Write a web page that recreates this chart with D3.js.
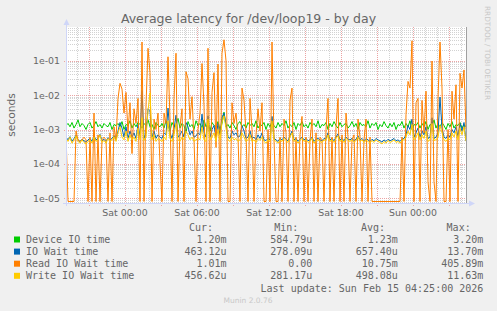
<!DOCTYPE html>
<html>
<head>
<meta charset="utf-8">
<script src="https://cdn.jsdelivr.net/npm/d3@7"></script>
<style>
  body { margin: 0; background: #f0f0f0; }
  svg { display: block; }
</style>
</head>
<body>
<div id="chart"></div>
<script>
// time window of the day graph (one sample every 10 minutes)
const startTime = new Date(2026, 1, 13, 19, 5);
const endTime = new Date(2026, 1, 15, 4, 25);
const stepMinutes = 10;

// values in milliseconds
const deviceIO = [
  1.3,1.5,1.2,1.6,1.1,1.4,1.9,1.2,1.5,1.3,
  1.0,1.4,1.6,1.1,1.3,1.7,1.2,1.4,1.1,1.5,
  1.3,1.2,1.6,1.0,1.4,1.3,1.5,1.2,1.7,1.0,
  1.4,1.3,1.8,1.1,1.5,1.2,1.6,1.4,1.1,1.5,
  1.3,1.9,1.2,1.4,1.0,1.6,1.3,1.2,1.5,1.1,
  1.8,1.3,0.9,1.6,1.2,1.4,2.1,1.1,1.5,1.3,
  0.8,1.7,1.2,1.4,1.0,1.8,1.3,1.5,1.1,1.9,
  1.2,1.4,0.9,1.6,1.3,1.2,1.7,1.0,1.5,3.2,
  1.2,1.4,1.1,1.6,1.3,1.0,1.5,1.7,1.2,1.4,
  1.1,1.6,1.3,1.5,1.2,1.8,1.1,1.4,1.3,1.6,
  1.0,1.5,1.2,1.7,1.3,1.1,1.6,1.2,1.5,1.3,
  1.8,1.1,1.4,1.2,1.6,1.0,1.5,1.3,1.7,1.2,
  1.4,1.1,1.6,1.3,1.5,1.2,1.8,1.1,1.4,1.3,
  1.6,1.0,1.5,1.2,1.7,1.3,1.1,1.6,1.2,1.4,
  1.5,1.1,1.3,1.7,1.2,1.5,1.0,1.6,1.3,1.4,
  1.2,1.8,1.1,1.5,1.3,1.6,1.0,1.4,1.2,1.7,
  1.3,1.1,1.5,1.2,1.6,1.0,1.4,1.3,1.7,1.1,
  1.5,1.2,1.8,1.0,1.4,1.3,1.6,1.1,1.5,1.2,
  1.7,1.0,1.4,1.3,1.9,1.1,1.5,1.2,1.6,1.3,
  1.0,1.5,1.2,1.7,1.1,1.4,1.3,1.6,1.1,1.4,
  1.20
];

const ioWait = [
  0.6,0.5,0.62,0.45,0.55,0.68,0.5,0.45,0.52,0.47,
  0.43,0.5,0.55,0.45,0.65,0.5,0.55,0.72,0.47,0.52,
  0.45,0.58,0.5,0.55,0.66,0.5,0.9,1.6,1.1,0.6,
  1.2,0.55,0.9,0.6,0.8,0.55,1.4,0.6,13.7,0.55,
  0.8,4.0,3.5,0.6,0.9,0.55,0.7,0.6,0.55,0.8,
  0.7,4.2,0.8,0.55,1.0,2.6,0.6,0.7,0.9,0.6,
  1.6,1.2,0.7,0.9,0.6,0.65,0.8,0.7,2.8,0.8,
  0.6,2.5,0.6,1.0,1.3,0.6,1.5,0.7,2.3,3.0,
  1.4,0.6,0.55,0.9,0.7,0.8,0.6,0.65,1.3,0.9,
  0.55,0.6,0.9,0.55,0.6,0.5,0.7,0.55,0.8,0.5,
  0.48,0.55,0.5,2.4,0.55,0.5,0.45,0.55,0.5,0.6,
  0.52,0.47,0.65,0.9,0.5,0.55,0.45,0.52,0.6,0.5,
  0.55,0.47,0.5,0.6,0.45,0.52,0.55,0.5,0.47,0.55,
  0.52,0.8,0.5,0.55,0.47,0.6,0.75,0.5,0.55,0.47,
  0.6,0.52,0.5,0.55,0.47,0.52,0.65,0.5,0.55,0.47,
  0.55,0.5,0.45,0.52,0.47,0.55,0.5,0.47,0.43,0.5,
  0.45,0.52,0.47,0.5,0.55,0.47,0.5,0.45,0.52,0.55,
  0.7,1.3,1.0,2.0,0.6,0.8,1.1,0.6,0.9,0.7,
  1.2,0.55,0.6,2.2,0.55,0.6,0.8,8.8,1.1,0.6,
  0.55,0.7,0.6,1.0,0.8,1.2,0.6,1.5,0.9,1.6,
  0.463
];

const readIOWait = [
  0.8,0,0,0,0,0.9,0.5,0.45,0.5,0.6,
  0.5,0,0.6,0,3.0,0,0.7,0,0.5,0.6,
  0.5,0,0.8,0,1.2,0.5,8,22,15,3,
  12,0.8,6,0.2,4,1.5,8,0,350,0,
  5,230,45,0,2,1,3,0.1,0,3,
  1.5,130,2,0,8,165,0,1.2,4,0,
  48,30,2,9,0.5,0,1,3,83,5,
  0,230,0,12,45,0.3,80,0,165,405.89,
  100,0,0,6,1.5,3,0.6,0,16,7,
  0.8,0,8,1,0,0.7,4,0.9,6,0,
  0,1,0,350,0.5,0,0,0.6,0,2,
  0.8,0,7,16,0,0.6,0,0.7,2.4,0,
  0.6,0,0.5,2,0,0.8,0,0.6,0.5,0,
  1,8,0,0.6,0,1.2,8,0,0.7,0,
  3,0.6,0,0.5,0.7,0,2,0.6,0,0.5,
  2,0,0.6,0,0,0,0,0,0,0,
  0,0,0,0,0,0,0,0,0.6,0,
  2.7,25,16,380,0,6,8,0,7,0.8,
  13,0.03,0,98,0.03,0,8,350,16,0,
  0,1,0,13,2,20,0,43,16,54,
  1.01
];

const writeIOWait = [
  0.55,0.45,0.6,0.4,0.5,0.65,0.45,0.4,0.5,0.42,
  0.38,0.45,0.5,0.4,0.6,0.45,0.5,0.7,0.42,0.48,
  0.4,0.55,0.45,0.5,0.62,0.45,0.8,1.2,0.6,0.5,
  0.9,0.45,0.7,0.5,0.6,0.45,1.1,0.5,2.2,0.48,
  0.6,3.5,11.63,0.5,0.7,0.45,0.55,0.5,0.45,0.6,
  0.5,1.8,0.55,0.45,0.7,1.5,0.5,0.45,0.6,0.5,
  0.9,0.7,0.5,0.6,0.45,0.5,0.55,0.5,1.2,0.5,
  0.45,2.0,0.5,0.6,0.8,0.45,1.0,0.5,1.6,2.5,
  1.1,0.5,0.45,0.6,0.5,0.55,0.45,0.5,0.8,0.6,
  0.45,0.5,0.7,0.45,0.5,0.42,0.55,0.48,0.6,0.45,
  0.4,0.5,0.45,1.8,0.5,0.45,0.4,0.5,0.45,0.55,
  0.48,0.42,0.6,0.8,0.45,0.5,0.4,0.48,0.55,0.45,
  0.5,0.42,0.45,0.55,0.4,0.48,0.5,0.45,0.42,0.5,
  0.48,0.7,0.45,0.5,0.42,0.55,0.65,0.45,0.5,0.42,
  0.55,0.48,0.45,0.5,0.42,0.48,0.6,0.45,0.5,0.42,
  0.5,0.45,0.4,0.48,0.42,0.5,0.45,0.42,0.38,0.45,
  0.4,0.48,0.42,0.45,0.5,0.42,0.45,0.4,0.48,0.5,
  0.6,0.9,0.7,1.4,0.5,0.6,0.8,0.5,0.7,0.55,
  0.9,0.45,0.5,1.5,0.48,0.5,0.6,1.3,0.8,0.5,
  0.45,0.55,0.5,0.8,0.6,0.9,0.5,1.1,0.7,1.2,
  0.457
];

// legend
const seriesNames = ["Device IO time", "IO Wait time", "Read IO Wait time", "Write IO Wait time"];
const seriesColors = ["#00cc00", "#0066b3", "#ff8000", "#ffcc00"];
const curValues = ["1.20m", "463.12u", "1.01m", "456.62u"];
const minValues = ["584.79u", "278.09u", "0.00", "281.17u"];
const avgValues = ["1.23m", "657.40u", "10.75m", "498.08u"];
const maxValues = ["3.20m", "13.70m", "405.89m", "11.63m"];
const yTickValues = [1e-5, 1e-4, 1e-3, 1e-2, 1e-1];
const yDomain = [7.3e-6, 0.955];

/* Set the dimensions of the picture and the plot box */
const width = 497, height = 311;
const plot = {left: 66, right: 466, top: 27, bottom: 203};
const fontColor = "#666";

const svg = d3.select("#chart")
    .append("svg")
    .attr("width", width)
    .attr("height", height)
    .style("font-family", "'DejaVu Sans', sans-serif");

svg.append("rect").attr("width", width).attr("height", height).attr("fill", "#f0f0f0");
svg.append("rect")
    .attr("x", plot.left).attr("y", plot.top)
    .attr("width", plot.right - plot.left).attr("height", plot.bottom - plot.top)
    .attr("fill", "#fff");

/* Scales */
const xScale = d3.scaleTime().domain([startTime, endTime]).range([plot.left, plot.right]);
const yScale = d3.scaleLog().domain(yDomain).range([plot.bottom, plot.top]);

/* Grid: minor lines every hour / every 2..9 of a decade, major every 3 hours / decade */
const minorColor = "#d2d2d2", majorColor = "#eba3a3";
const grid = svg.append("g").attr("class", "grid");
const minorY = yScale.ticks().filter(v => !yTickValues.includes(v));
grid.selectAll("line.hminor").data(minorY).join("line")
    .attr("x1", plot.left).attr("x2", plot.right)
    .attr("y1", d => Math.round(yScale(d)) + 0.5).attr("y2", d => Math.round(yScale(d)) + 0.5)
    .attr("stroke", minorColor).attr("stroke-dasharray", "1,1");

const hours = d3.timeHour.every(1).range(startTime, endTime);
grid.selectAll("line.vminor").data(hours.filter(d => d.getHours() % 3 !== 0)).join("line")
    .attr("x1", d => Math.round(xScale(d)) + 0.5).attr("x2", d => Math.round(xScale(d)) + 0.5)
    .attr("y1", plot.top).attr("y2", plot.bottom + 1)
    .attr("stroke", minorColor).attr("stroke-dasharray", "1,1");

grid.selectAll("line.hmajor").data(yTickValues).join("line")
    .attr("x1", plot.left - 2).attr("x2", plot.right + 2)
    .attr("y1", d => Math.round(yScale(d)) + 0.5).attr("y2", d => Math.round(yScale(d)) + 0.5)
    .attr("stroke", majorColor).attr("stroke-dasharray", "1,1");

grid.selectAll("line.vmajor").data(hours.filter(d => d.getHours() % 3 === 0)).join("line")
    .attr("x1", d => Math.round(xScale(d)) + 0.5).attr("x2", d => Math.round(xScale(d)) + 0.5)
    .attr("y1", plot.top).attr("y2", plot.bottom + 3)
    .attr("stroke", majorColor).attr("stroke-dasharray", "1,1");

/* Lines */
svg.append("defs").append("clipPath").attr("id", "plotclip")
    .append("rect").attr("x", plot.left).attr("y", plot.top - 2)
    .attr("width", plot.right - plot.left + 1).attr("height", plot.bottom - plot.top + 2);

const timeAt = i => new Date(startTime.getTime() + i * stepMinutes * 60000);
const line = d3.line()
    .x((d, i) => xScale(timeAt(i)))
    .y(d => d > 0 ? yScale(d / 1000) : plot.bottom - 1.5);

const series = [deviceIO, ioWait, readIOWait, writeIOWait];
svg.append("g").attr("clip-path", "url(#plotclip)")
    .selectAll("path").data(series).join("path")
    .attr("d", d => line(d))
    .attr("fill", "none")
    .attr("stroke", (d, i) => seriesColors[i])
    .attr("stroke-width", 1);

/* Axes (munin draws them lavender with arrows) */
const axisColor = "#cfd6f8";
svg.append("line").attr("x1", plot.left + 0.5).attr("x2", plot.left + 0.5)
    .attr("y1", plot.bottom + 3).attr("y2", plot.top - 4).attr("stroke", axisColor);
svg.append("line").attr("x1", plot.left - 3).attr("x2", plot.right + 4)
    .attr("y1", plot.bottom + 0.5).attr("y2", plot.bottom + 0.5).attr("stroke", axisColor);
svg.append("path")
    .attr("d", `M${plot.left - 2.5},${plot.top - 2} L${plot.left + 0.5},${plot.top - 8} L${plot.left + 3.5},${plot.top - 2} Z`)
    .attr("fill", axisColor);
svg.append("path")
    .attr("d", `M${plot.right + 3},${plot.bottom - 2.5} L${plot.right + 9},${plot.bottom + 0.5} L${plot.right + 3},${plot.bottom + 3.5} Z`)
    .attr("fill", axisColor);
svg.append("line").attr("x1", plot.right + 0.5).attr("x2", plot.right + 0.5)
    .attr("y1", plot.top).attr("y2", plot.bottom).attr("stroke", "#a0a0a0");

/* Tick labels */
svg.append("g").selectAll("text").data(yTickValues).join("text")
    .attr("x", 60).attr("y", d => yScale(d) + 3.4)
    .attr("text-anchor", "end")
    .attr("font-size", "9.4px").attr("fill", fontColor)
    .text(d => "1e-" + String(Math.round(-Math.log10(d))).padStart(2, "0"));

svg.append("g").selectAll("text").data(d3.timeHour.every(6).range(startTime, endTime)).join("text")
    .attr("x", d => xScale(d)).attr("y", 216)
    .attr("text-anchor", "middle")
    .attr("font-size", "9.4px").attr("fill", fontColor)
    .text(d3.timeFormat("%a %H:%M"));

/* Title and y label */
svg.append("text").attr("x", 248.5).attr("y", 23)
    .attr("text-anchor", "middle").attr("font-size", "12.5px").attr("fill", fontColor)
    .text("Average latency for /dev/loop19 - by day");
svg.append("text").attr("transform", "translate(14.5,115) rotate(-90)")
    .attr("text-anchor", "middle").attr("font-size", "10.7px").attr("fill", fontColor)
    .text("seconds");
svg.append("text").attr("transform", "translate(484.5,53) rotate(90)")
    .attr("text-anchor", "middle").attr("font-size", "7.3px").attr("fill", "#c8c8c8")
    .text("RRDTOOL / TOBI OETIKER");

/* Legend */
const legend = svg.append("g")
    .style("font-family", "'DejaVu Sans Mono', monospace")
    .attr("font-size", "10px").attr("fill", fontColor);
const colRight = [226.6, 312.3, 397.9, 483.3];
const headRight = [213, 298.4, 385, 470.7];
["Cur:", "Min:", "Avg:", "Max:"].forEach((h, j) => {
    legend.append("text").attr("x", headRight[j]).attr("y", 231).attr("text-anchor", "end").text(h);
});
const columns = [curValues, minValues, avgValues, maxValues];
seriesNames.forEach((name, i) => {
    const yy = 243 + i * 12.1;
    legend.append("rect").attr("x", 14).attr("y", yy - 6.5).attr("width", 6).attr("height", 6)
        .attr("fill", seriesColors[i]);
    legend.append("text").attr("x", 26).attr("y", yy).text(name);
    columns.forEach((col, j) => {
        legend.append("text").attr("x", colRight[j]).attr("y", yy).attr("text-anchor", "end").text(col[i]);
    });
});
legend.append("text").attr("x", 483.3).attr("y", 291.5).attr("text-anchor", "end")
    .text("Last update: Sun Feb 15 04:25:00 2026");

svg.append("text").attr("x", 248).attr("y", 302.5)
    .attr("text-anchor", "middle").attr("font-size", "7.5px").attr("fill", "#c8c8c8")
    .text("Munin 2.0.76");
</script>
</body>
</html>
